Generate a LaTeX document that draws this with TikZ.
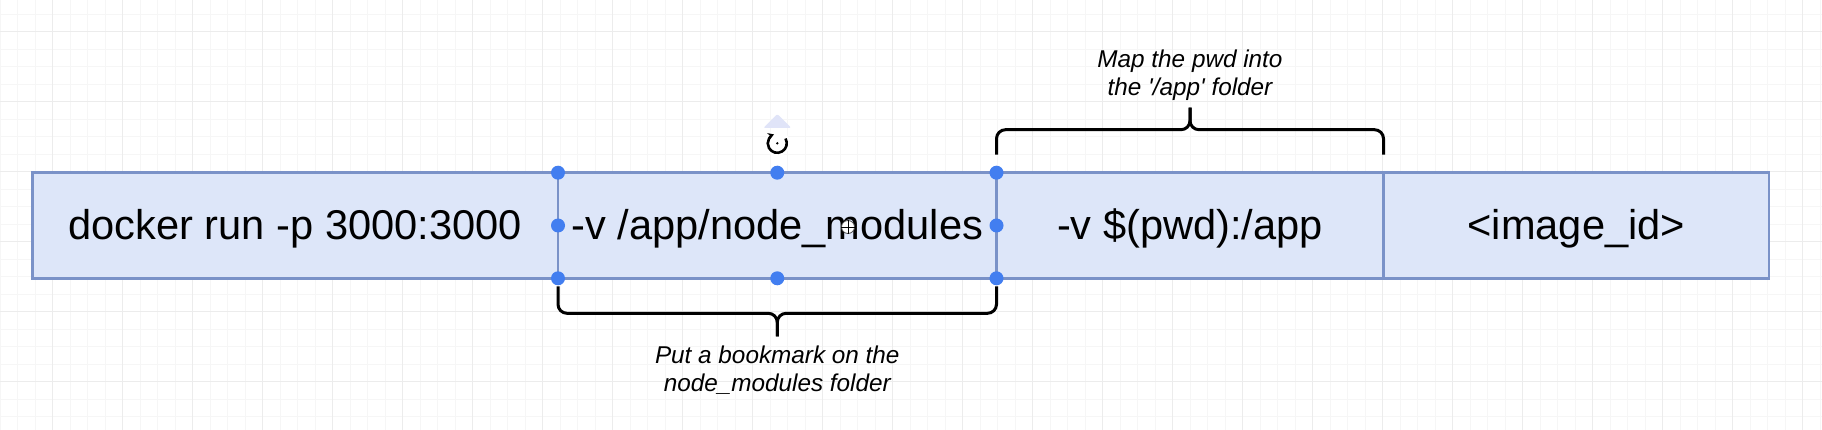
\documentclass[tikz,border=0pt]{standalone}
\usepackage{fontspec}
\setmainfont{Liberation Sans}
\usepackage{xcolor}
\usepackage{tikz}
\usetikzlibrary{positioning,%
  arrows.meta,%
  calc
}
\definecolor{cellfill}{RGB}{221,230,249}
\definecolor{cellline}{RGB}{122,146,200}
\definecolor{handleblue}{RGB}{66,126,240}
\definecolor{gridminor}{RGB}{246,246,246}
\definecolor{gridmajor}{RGB}{236,236,236}
\definecolor{tipcolor}{RGB}{224,228,248}

\begin{document}
\begin{tikzpicture}[x=1pt,y=-1pt,
    cell/.style={draw=cellline, fill=cellfill, line width=2.8pt, minimum height=105.6pt,
      outer sep=0pt, inner sep=0pt, font=\fontsize{41.6}{50}\selectfont,
      text height=36pt, text depth=7pt},
    note/.style={font=\fontsize{24.3}{28}\selectfont\itshape, align=center, inner sep=0pt},
    brace/.style={line width=3pt, rounded corners=9pt},
    handle/.style={circle, fill=handleblue, inner sep=0pt, minimum size=14pt}]
            \useasboundingbox (0,0) rectangle (1822,430);
            \fill [white] (0,0) rectangle (1822,430);
            \begin{scope}[shift={(52.7,31.7)}]
            \draw [step=17.5pt, gridminor, line width=1pt] (-52.7,398.3) grid (1769.3,-31.7);
            \draw [step=70pt, gridmajor, line width=1.2pt] (-52.7,398.3) grid (1769.3,-31.7);
            \end{scope}

            \node [cell, minimum width=525.5pt, anchor=north west] (cell1) at (32.5,172.7) {docker run -p 3000:3000};
            \node [cell, minimum width=438.5pt, right=0pt of cell1] (cell2) {-v /app/node\_modules};
            \node [cell, minimum width=387pt, right=0pt of cell2] (cell3) {-v \$(pwd):/app};
            \node [cell, minimum width=385.5pt, right=0pt of cell3] (cell4) {<image\_id>};

            \coordinate (tipA) at ([yshift=-58pt]cell2.south);
            \draw [brace] ([yshift=-8pt]cell2.south west) |- ([yshift=-35pt]cell2.south) -- (tipA);
            \draw [brace] ([yshift=-8pt]cell2.south east) |- ([yshift=-35pt]cell2.south) -- (tipA);
            \node [note, below=9pt of tipA] (noteA) {Put a bookmark on the\\node\_modules folder};

            \coordinate (tipB) at ([yshift=65pt]cell3.north);
            \draw [brace] ([yshift=18pt]cell3.north west) |- ([yshift=43pt]cell3.north) -- (tipB);
            \draw [brace] ([yshift=18pt]cell3.north east) |- ([yshift=43pt]cell3.north) -- (tipB);
            \node [note, above=7pt of tipB] (noteB) {Map the pwd into\\the \textquotesingle/app\textquotesingle\ folder};

            \foreach \a [count=\i] in {north west,north,north east,east,south east,south,south west,west}
              \node [handle] (h\i) at (cell2.\a) {};

            \fill [tipcolor, rounded corners=2pt] ([yshift=58.7pt]cell2.north) -- ++(-14,14) -- ++(28,0) -- cycle;
            \node [circle, fill=white, inner sep=0pt, minimum size=26pt] (rot) at ([yshift=29.4pt]cell2.north) {};
            \draw [line width=2.6pt, -{Stealth[length=6pt,width=7pt]}] (rot) ++(-30:9.5) arc (-30:250:9.5);
            \fill (rot) circle (1.3);

            \node [circle, draw=black!70, fill=white, line width=0.8pt, inner sep=0pt, minimum size=13pt] (cursor) at (848,227) {};
            \draw [line width=0.9pt] (cursor.north) -- (cursor.south) (cursor.west) -- (cursor.east);
        \end{tikzpicture}
\end{document}
